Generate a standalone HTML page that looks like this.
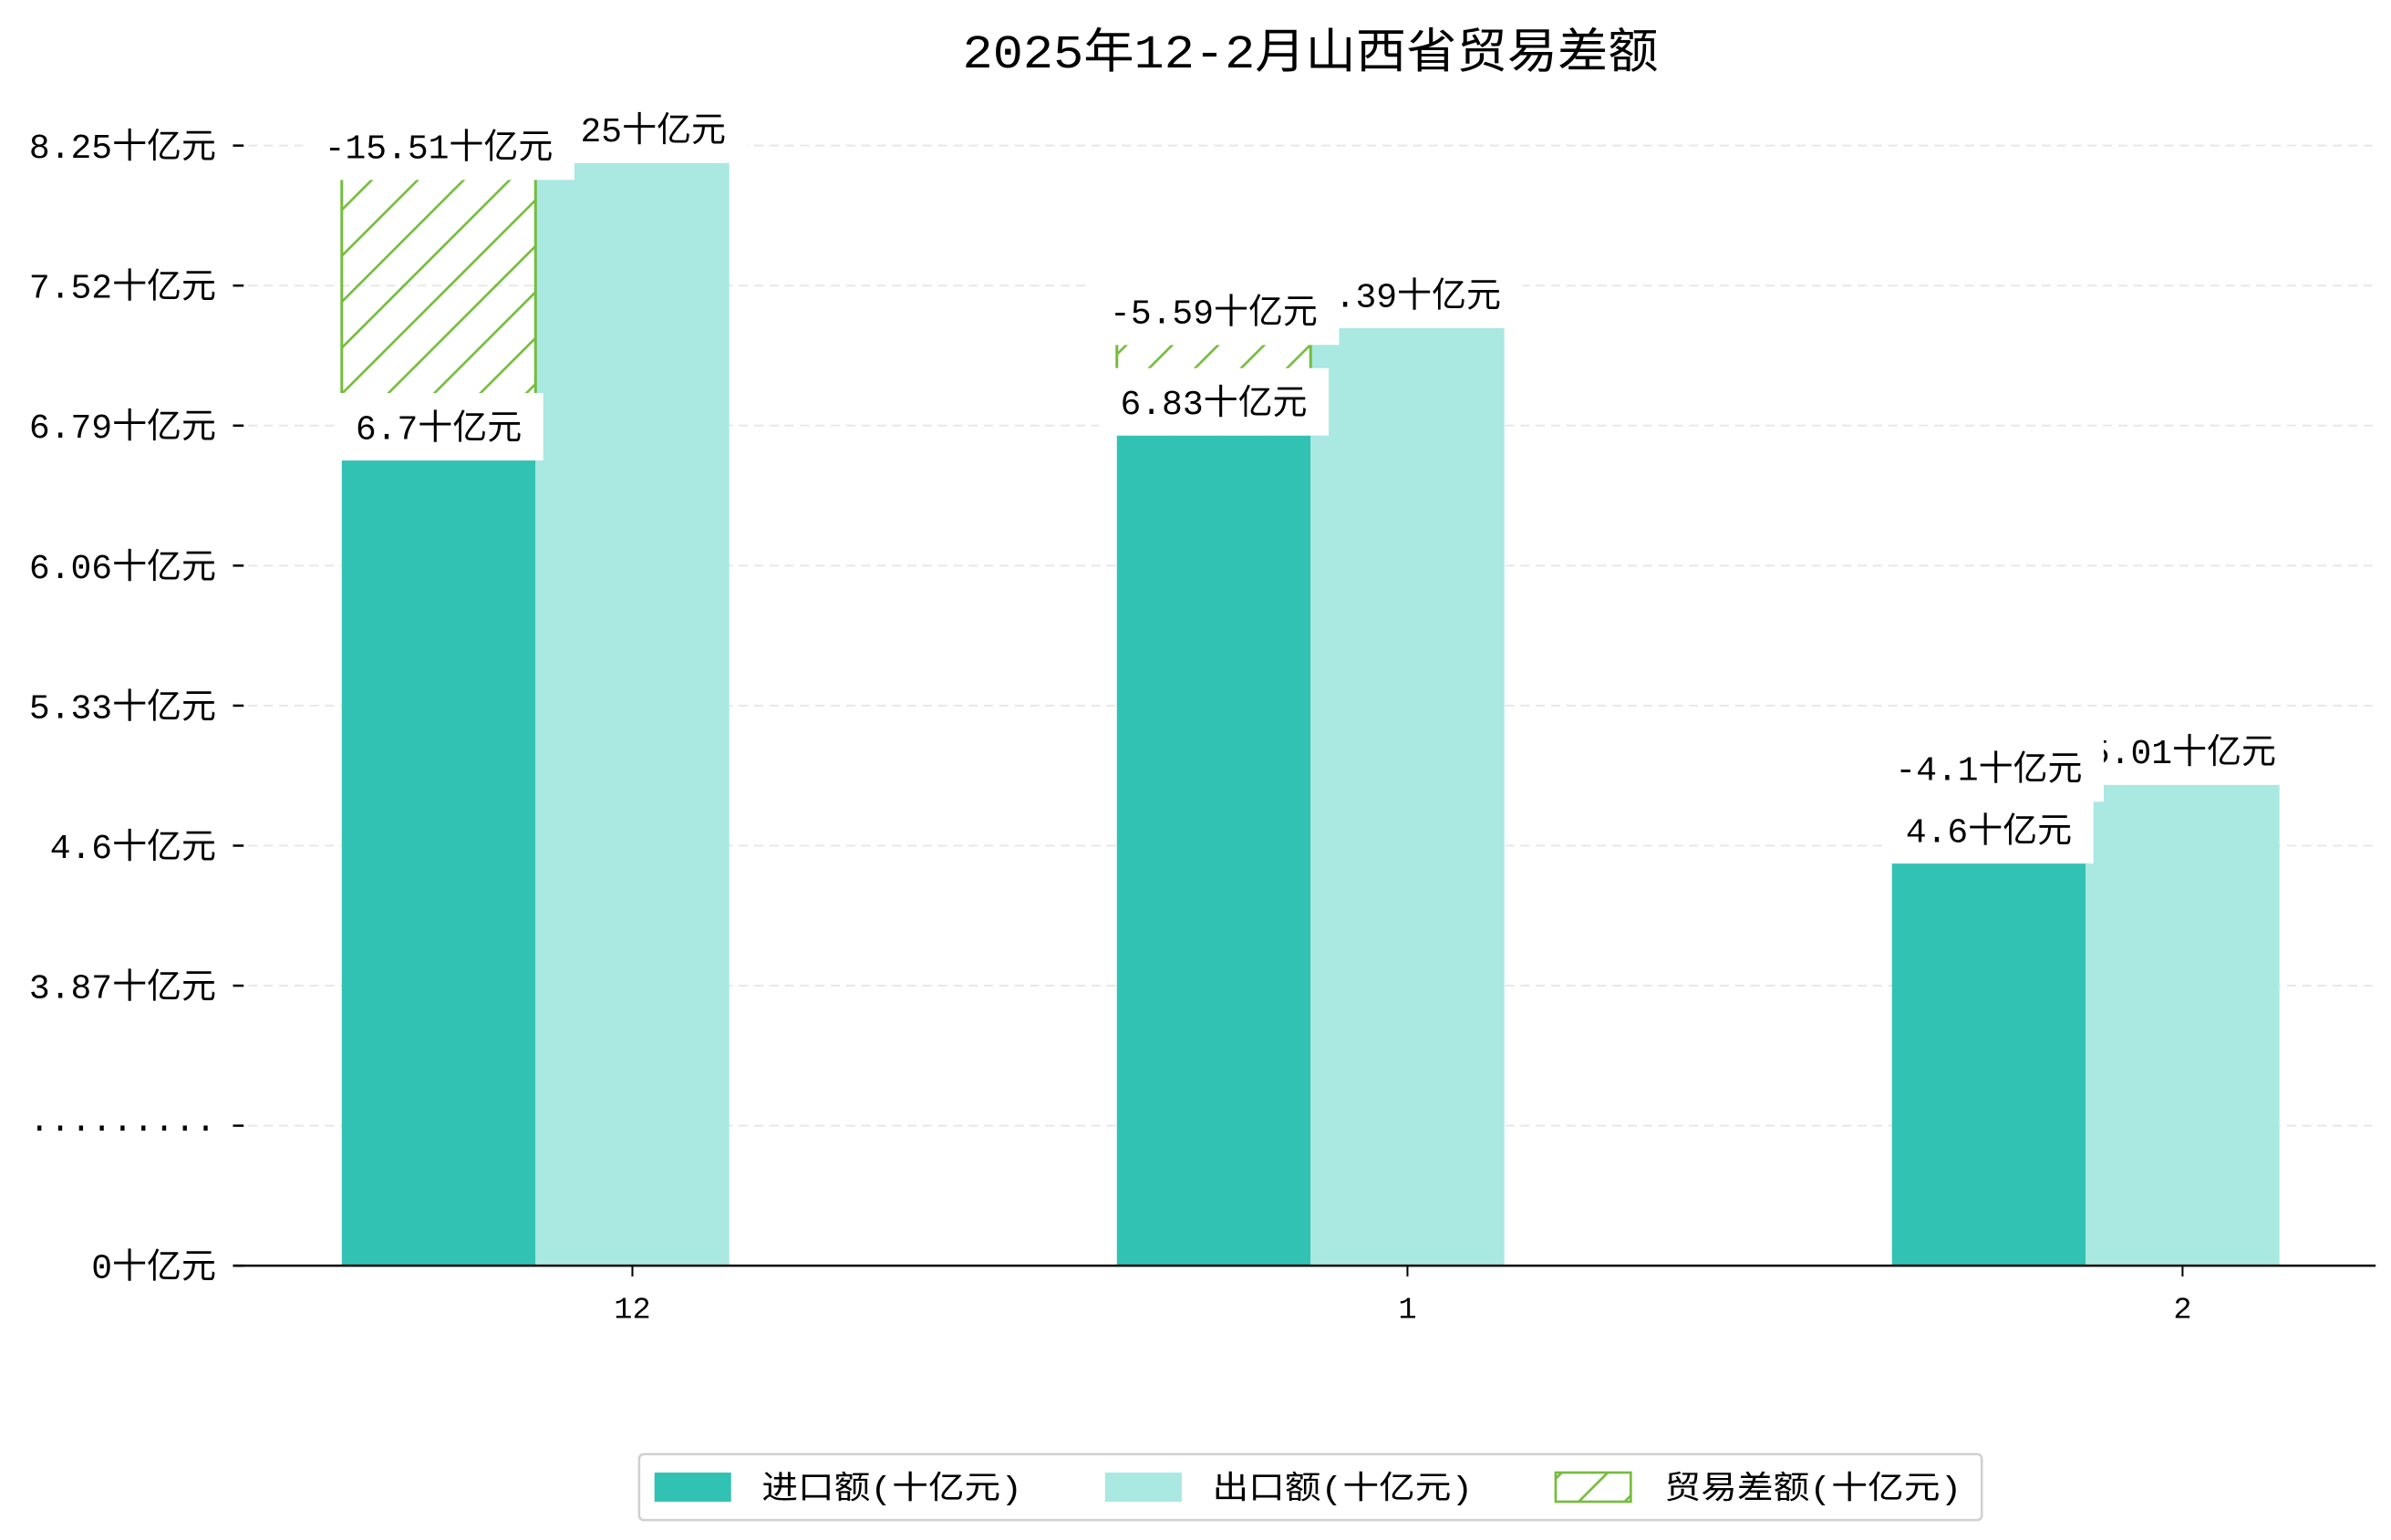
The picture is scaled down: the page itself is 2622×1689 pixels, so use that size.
<!DOCTYPE html>
<html><head><meta charset="utf-8"><style>
html,body{margin:0;padding:0;background:#fff;}
svg{display:block;}
text{font-family:"Liberation Mono","Noto Sans CJK SC",monospace;fill:#000;}
</style></head><body>
<svg id="chart" width="2622" height="1689" viewBox="0 0 1560 1005" preserveAspectRatio="none" xmlns="http://www.w3.org/2000/svg">
<defs>
<pattern id="hatch" patternUnits="userSpaceOnUse" width="30" height="30">
<path d="M-5,5 L5,-5 M0,30 L30,0 M25,35 L35,25" stroke="#76bc3e" stroke-width="1.6"/>
</pattern>
</defs>
<text x="855" y="44" font-size="31" text-anchor="middle" textLength="454" lengthAdjust="spacingAndGlyphs">2025年12-2月山西省贸易差额</text>
<g id="grid"></g>
<g id="bars"></g>
<g id="labels"></g>
<g id="axes"></g>
<g>
<rect x="417" y="949" width="876" height="43" rx="3" fill="#fff" stroke="#d0d0d0" stroke-width="1.5"/>
<rect x="427" y="961" width="50" height="19" fill="#32c2b4"/>
<text x="497" y="978" font-size="21" textLength="170" lengthAdjust="spacingAndGlyphs">进口额(十亿元)</text>
<rect x="721" y="961" width="50" height="19" fill="#aae8e2"/>
<text x="791" y="978" font-size="21" textLength="170" lengthAdjust="spacingAndGlyphs">出口额(十亿元)</text>
<rect x="1015" y="961" width="49" height="19" fill="url(#hatch)" stroke="#76bc3e" stroke-width="1.6"/>
<text x="1086" y="978" font-size="21" textLength="194" lengthAdjust="spacingAndGlyphs">贸易差额(十亿元)</text>
</g>
</svg>
<script>
const categories = ["12", "1", "2"];
const importValues = [6.7, 6.83, 4.6];
const exportValues = [8.25, 7.39, 5.01];
const balanceValues = [-15.51, -5.59, -4.1];
const tickLabels = ["8.25十亿元","7.52十亿元","6.79十亿元","6.06十亿元","5.33十亿元","4.6十亿元","3.87十亿元","·········","0十亿元"];

const NS = "http://www.w3.org/2000/svg";
const gGrid = document.getElementById('grid');
const gBars = document.getElementById('bars');
const gLabels = document.getElementById('labels');
const gAxes = document.getElementById('axes');
const plotL = 152, plotR = 1550, baseY = 826;
const groupStart = 223, groupStep = 505.7, barW = 126.4;
function yScale(v){ return 746.4 - (v - 3.14) * 125.25; }
function tickY(i){ return 95 + i * (baseY - 95) / (tickLabels.length - 1); }
function mk(tag, attrs, parent){ const e = document.createElementNS(NS, tag); for (const k in attrs) e.setAttribute(k, attrs[k]); parent.appendChild(e); return e; }

tickLabels.forEach((t, i) => {
  const y = tickY(i);
  if (i < tickLabels.length - 1) {
    const g = mk('line', {x1: plotL, x2: plotR, y1: y, y2: y, stroke: '#e8e8e8', 'stroke-width': 1.2, 'stroke-dasharray': '6,4'}, gGrid);
    
    
  }
  const tk = mk('line', {x1: plotL, x2: plotL + 7, y1: y, y2: y, stroke: '#000', 'stroke-width': 1.5}, gAxes);
  
  
  const tx = mk('text', {x: 141, y: y + 8, 'font-size': 22.6, 'text-anchor': 'end'}, gAxes);
  tx.textContent = t;
  
  
});

const axisLine = mk('line', {x1: plotL, x2: plotR, y1: baseY, y2: baseY, stroke: '#000', 'stroke-width': 1.5}, gAxes);



function label(text, cx, bottom){
  const t = mk('text', {x: cx, y: bottom - 14, 'font-size': 22.6, 'text-anchor': 'middle'}, gLabels);
  t.textContent = text;
  
  
  let w = 0; try { w = t.getComputedTextLength(); } catch(e) {}
  if (!w) w = text.length * 16;
  const r = document.createElementNS(NS, 'rect');
  r.setAttribute('x', cx - w / 2 - 14); r.setAttribute('y', bottom - 44);
  r.setAttribute('width', w + 28); r.setAttribute('height', 44); r.setAttribute('fill', '#fff');
  
  
  gLabels.insertBefore(r, t);
}

categories.forEach((c, i) => {
  const x0 = groupStart + i * groupStep;
  const yi = yScale(importValues[i]), ye = yScale(exportValues[i]);
  const bi = mk('rect', {x: x0, y: yi, width: barW, height: baseY - yi, fill: '#32c2b4'}, gBars);
  
  
  const be = mk('rect', {x: x0 + barW, y: ye, width: barW, height: baseY - ye, fill: '#aae8e2'}, gBars);
  
  
  const hTop = ye + 11;
  const hH = Math.max(0, yi - hTop);
  const bh = mk('rect', {x: x0, y: hTop, width: barW, height: hH, fill: 'url(#hatch)'}, gBars);
  
  
  const el = mk('path', {d: 'M' + x0 + ',' + hTop + ' V' + (hTop + hH) + ' M' + (x0 + barW) + ',' + hTop + ' V' + (hTop + hH), stroke: '#76bc3e', 'stroke-width': 1.8, fill: 'none'}, gBars);
  
  
  const tk = mk('line', {x1: x0 + barW * 1.5, x2: x0 + barW * 1.5, y1: baseY, y2: baseY + 7, stroke: '#000', 'stroke-width': 1.2}, gAxes);
  
  
  const xl = mk('text', {x: x0 + barW * 1.5, y: 860, 'font-size': 20, 'text-anchor': 'middle'}, gAxes);
  xl.textContent = c;
  
  
});
categories.forEach((c, i) => {
  const x0 = groupStart + i * groupStep;
  label(exportValues[i] + '十亿元', x0 + barW * 1.5, yScale(exportValues[i]));
});
categories.forEach((c, i) => {
  const x0 = groupStart + i * groupStep;
  label(importValues[i] + '十亿元', x0 + barW * 0.5, yScale(importValues[i]));
});
categories.forEach((c, i) => {
  const x0 = groupStart + i * groupStep;
  label(balanceValues[i] + '十亿元', x0 + barW * 0.5, yScale(exportValues[i]) + 11);
});
</script>
</body></html>
